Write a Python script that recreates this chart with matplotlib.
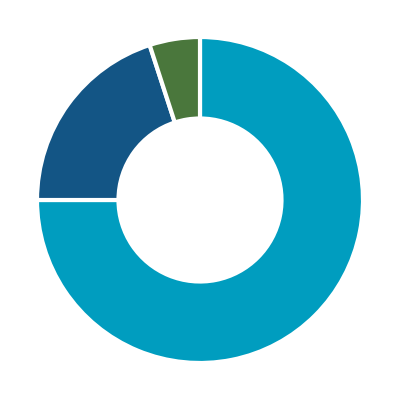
import matplotlib
matplotlib.use("Agg")
import matplotlib.pyplot as plt

# shares of the ring, clockwise from 12 o'clock
labels = ["A", "B", "C"]
values = [75, 20, 5]
colors = ["#009dbf", "#135585", "#4a773c"]

fig = plt.figure(figsize=(4, 4), dpi=100)
ax = fig.add_axes([0, 0, 1, 1])
ax.pie(values, colors=colors, startangle=90, counterclock=False,
       wedgeprops=dict(width=0.5, edgecolor="white", linewidth=3))
ax.set_xlim(-1.227, 1.227)
ax.set_ylim(-1.227, 1.227)
ax.set_aspect("equal")
ax.axis("off")
fig.savefig("out.png", dpi=100, facecolor="white")
